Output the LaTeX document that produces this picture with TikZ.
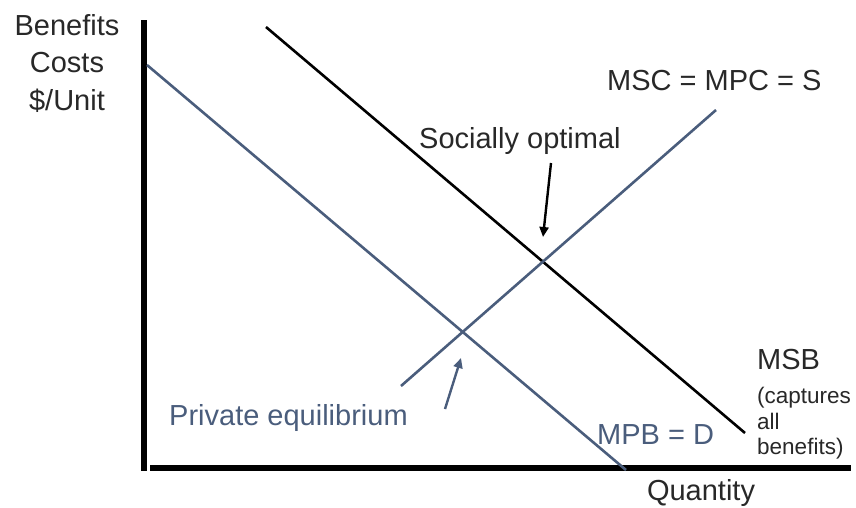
\documentclass[tikz,border=0pt]{standalone}
\usepackage{fontspec}
\setmainfont{Liberation Sans}
\usetikzlibrary{arrows.meta}
\definecolor{slate}{RGB}{74,93,124}
\definecolor{txt}{RGB}{40,40,40}
\tikzset{
  axis/.style={line width=6pt, black},
  curve/.style={line width=2.6pt, slate},
  scurve/.style={line width=2.6pt, black},
  lbl/.style={font=\fontsize{29}{37.5}\selectfont, text=txt, inner sep=0pt},
  small/.style={font=\fontsize{22.5}{25.5}\selectfont, text=txt, inner sep=0pt, align=left},
  ptr/.style={line width=2.4pt, -{Triangle[length=10pt,width=9pt]}}
}
\begin{document}
\begin{tikzpicture}[x=1pt,y=-1pt]
\useasboundingbox (0,0) rectangle (856,507);
% axes
\coordinate (ytop) at (144,20);
\coordinate (ybot) at (144,471);
\coordinate (xl) at (150,468);
\coordinate (xr) at (851,468);
\draw[axis] (ytop) -- (ybot);
\draw[axis] (xl) -- (xr);
% curves
\coordinate (mpb1) at (147,65);
\coordinate (mpb2) at (626,470);
\coordinate (msb1) at (266,27);
\coordinate (msb2) at (745,433);
\coordinate (s1) at (401,386);
\coordinate (s2) at (716,110);
\draw[curve] (mpb1) -- (mpb2);
\draw[scurve] (msb1) -- (msb2);
\draw[curve] (s1) -- (s2);
% labels
\node[lbl, align=center] (yl) at (67,63) {Benefits\\Costs\\\$/Unit};
\node[lbl, anchor=west] (supply) at (607,81) {MSC = MPC = S};
\node[lbl, anchor=west] (soc) at (419,141) {Socially optimal};
\node[lbl, anchor=west, text=slate] (priv) at (169,418) {Private equilibrium};
\node[lbl, anchor=west, text=slate] (mpb) at (597,435) {MPB = D};
\node[lbl, anchor=west] (msb) at (757,360) {MSB};
\node[small, anchor=north west] (cap) at (757,387) {(captures\\all\\benefits)};
\node[lbl] (q) at (701,493) {Quantity};
% pointers
\coordinate (so1) at (551,163);
\coordinate (so2) at (543,237);
\coordinate (pe1) at (445,409);
\coordinate (pe2) at (461,358);
\draw[ptr, black] (so1) -- (so2);
\draw[ptr, slate] (pe1) -- (pe2);
\end{tikzpicture}
\end{document}
